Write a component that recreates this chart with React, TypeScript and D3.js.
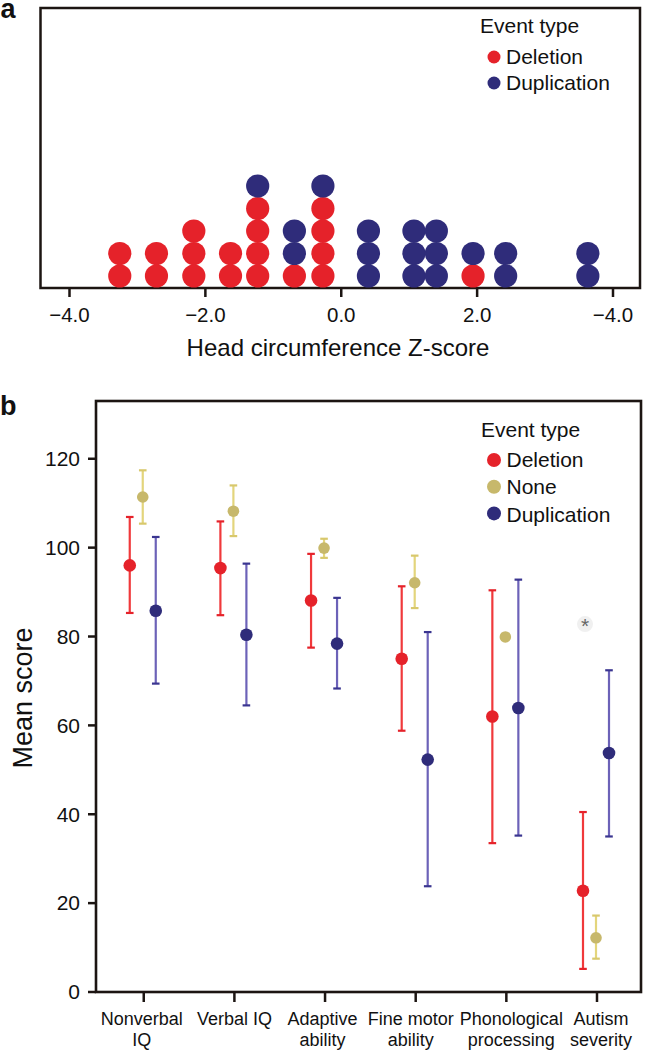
import React from "react";
import * as d3 from "d3";

// ---------- Panel a data ----------
const zScores = [-3.26, -2.72, -2.17, -1.63, -1.23, -0.69, -0.27, 0.4, 1.07, 1.4, 1.94, 2.42, 3.63];
const deletionCounts = [2, 2, 3, 2, 4, 1, 4, 0, 0, 0, 1, 0, 0];
const duplicationCounts = [0, 0, 0, 0, 1, 2, 1, 3, 3, 3, 1, 2, 2];
const zTickValues = [-4, -2, 0, 2, 4];
const zTickLabels = ["\u22124.0", "\u22122.0", "0.0", "2.0", "\u22124.0"];

// ---------- Panel b data ----------
const categories = ["Nonverbal IQ", "Verbal IQ", "Adaptive ability", "Fine motor ability", "Phonological processing", "Autism severity"];
const categoryLines = [["Nonverbal", "IQ"], ["Verbal IQ"], ["Adaptive", "ability"], ["Fine motor", "ability"], ["Phonological", "processing"], ["Autism", "severity"]];
const seriesNames = ["Deletion", "None", "Duplication"];
const deletionMean = [96.0, 95.4, 88.1, 75.0, 62.0, 22.8];
const deletionLow = [85.3, 84.8, 77.5, 58.8, 33.5, 5.2];
const deletionHigh = [106.9, 105.9, 98.6, 91.3, 90.4, 40.5];
const noneMean = [111.4, 108.2, 99.9, 92.1, 79.9, 12.2];
const noneLow = [105.4, 102.6, 97.7, 86.4, 79.9, 7.5];
const noneHigh = [117.4, 114.0, 102.0, 98.2, 79.9, 17.2];
const dupMean = [85.8, 80.4, 78.4, 52.3, 63.9, 53.8];
const dupLow = [69.4, 64.5, 68.3, 23.8, 35.2, 35.0];
const dupHigh = [102.4, 96.4, 88.7, 81.0, 92.8, 72.4];
const scoreTicks = [0, 20, 40, 60, 80, 100, 120];
const outlierCategory = "Autism severity";
const outlierValue = 82.8;

// ---------- styles ----------
const FONT = "'Liberation Sans', Arial, Helvetica, sans-serif";
const RED = "#e5222a";
const BLUE = "#2f2c7a";
const RED_BAR = "#f0393b";
const BLUE_BAR = "#6c62b8";
const YEL = "#c7b86b";
const YEL_BAR = "#e3d57c";
const FRAME = "#1c1512";

const labelNudge = [-2, 0, -2.5, -5, 5, 4];

export default function App() {
  // Panel a geometry
  const aLeft = 40.5, aRight = 640, aTop = 8, aBottom = 288;
  const xz = d3.scaleLinear().domain([-4, 4]).range([69.5, 613]);
  const yStack = d3.scaleLinear().domain([0, 1]).range([276, 253.5]);

  const dots: { x: number; level: number; color: string }[] = [];
  zScores.forEach((z, i) => {
    let level = 0;
    for (let k = 0; k < deletionCounts[i]; k++) dots.push({ x: z, level: level++, color: RED });
    for (let k = 0; k < duplicationCounts[i]; k++) dots.push({ x: z, level: level++, color: BLUE });
  });

  // Panel b geometry
  const bLeft = 96, bRight = 641, bTop = 401, bBottom = 992;
  const xCat = d3.scalePoint<string>().domain(categories).range([143.75, 597]);
  const xSeries = d3.scalePoint<string>().domain(seriesNames).range([-14, 12]);
  const yScore = d3.scaleLinear().domain([0, 133]).range([bBottom, bTop]);

  const series = [
    { name: "Deletion", mean: deletionMean, low: deletionLow, high: deletionHigh, dot: RED, bar: RED_BAR, cap: RED, r: 6.3 },
    { name: "None", mean: noneMean, low: noneLow, high: noneHigh, dot: YEL, bar: YEL_BAR, cap: "#d8c86c", r: 5.8 },
    { name: "Duplication", mean: dupMean, low: dupLow, high: dupHigh, dot: BLUE, bar: BLUE_BAR, cap: "#3a3590", r: 6.3 },
  ];

  const legendB = [
    { name: "Deletion", color: RED },
    { name: "None", color: YEL },
    { name: "Duplication", color: BLUE },
  ];
  const legendA = [
    { name: "Deletion", color: RED },
    { name: "Duplication", color: BLUE },
  ];

  const ox = xCat(outlierCategory)! + xSeries("Deletion")! + 2;
  const oy = yScore(outlierValue);

  return (
    <svg width={650} height={1050} style={{ position: "absolute", left: 0, top: 0, background: "#fff" }} fontFamily={FONT}>
      <rect x={0} y={0} width={650} height={1050} fill="#fff" />
      {/* ---------------- Panel a ---------------- */}
      <text x={0.5} y={17.5} fontSize={27} fontWeight="bold" fill="#111">a</text>
      <rect x={aLeft} y={aTop} width={aRight - aLeft} height={aBottom - aTop} fill="none" stroke={FRAME} strokeWidth={2.5} />
      {dots.map((d, i) => (
        <circle key={i} cx={xz(d.x)} cy={yStack(d.level)} r={11.6} fill={d.color} />
      ))}
      {zTickValues.map((t, i) => (
        <g key={t}>
          <line x1={xz(t)} x2={xz(t)} y1={aBottom} y2={aBottom + 9} stroke={FRAME} strokeWidth={2.5} />
          <text x={xz(t)} y={322} fontSize={20.5} textAnchor="middle" fill="#111">{zTickLabels[i]}</text>
        </g>
      ))}
      <text x={338} y={356} fontSize={24} textAnchor="middle" fill="#111">Head circumference Z-score</text>
      <text x={480} y={33} fontSize={21} fill="#111">Event type</text>
      {legendA.map((l, i) => (
        <g key={l.name}>
          <circle cx={494} cy={57 + i * 26} r={6.5} fill={l.color} />
          <text x={506} y={64 + i * 26} fontSize={21} fill="#111">{l.name}</text>
        </g>
      ))}

      {/* ---------------- Panel b ---------------- */}
      <text x={0} y={415} fontSize={27} fontWeight="bold" fill="#111">b</text>
      <rect x={bLeft} y={bTop} width={bRight - bLeft} height={bBottom - bTop} fill="none" stroke={FRAME} strokeWidth={2.6} />
      {scoreTicks.map((t) => (
        <g key={t}>
          <line x1={bLeft - 8} x2={bLeft} y1={yScore(t)} y2={yScore(t)} stroke={FRAME} strokeWidth={2.5} />
          <text x={80} y={yScore(t)} dy="0.35em" fontSize={21} textAnchor="end" fill="#111">{t}</text>
        </g>
      ))}
      {categories.map((c, i) => (
        <g key={c}>
          <line x1={xCat(c)!} x2={xCat(c)!} y1={bBottom} y2={bBottom + 10} stroke={FRAME} strokeWidth={2.5} />
          {categoryLines[i].map((ln, j) => (
            <text key={j} x={xCat(c)! + labelNudge[i]} y={1025 + j * 21} fontSize={18} textAnchor="middle" fill="#111">{ln}</text>
          ))}
        </g>
      ))}
      <text transform={`translate(31.5, 698) rotate(-90)`} fontSize={27} textAnchor="middle" fill="#111">Mean score</text>

      {series.map((s) => (
        <g key={s.name}>
          {categories.map((c, i) => {
            const x = xCat(c)! + xSeries(s.name)!;
            const hasBar = s.high[i] > s.low[i];
            return (
              <g key={c}>
                {hasBar && (
                  <>
                    <line x1={x} x2={x} y1={yScore(s.high[i])} y2={yScore(s.low[i])} stroke={s.bar} strokeWidth={2.2} />
                    <line x1={x - 3.8} x2={x + 3.8} y1={yScore(s.high[i])} y2={yScore(s.high[i])} stroke={s.cap} strokeWidth={2.2} />
                    <line x1={x - 3.8} x2={x + 3.8} y1={yScore(s.low[i])} y2={yScore(s.low[i])} stroke={s.cap} strokeWidth={2.2} />
                  </>
                )}
                <circle cx={x} cy={yScore(s.mean[i])} r={s.r} fill={s.dot} />
              </g>
            );
          })}
        </g>
      ))}
      {/* outlier asterisk */}
      <g>
        <circle cx={ox} cy={oy} r={8} fill="#f0f0f0" />
        <text x={ox} y={oy + 9} fontSize={21} textAnchor="middle" fill="#666">*</text>
      </g>

      <text x={481} y={437} fontSize={21} fill="#111">Event type</text>
      {legendB.map((l, i) => (
        <g key={l.name}>
          <circle cx={494} cy={460 + i * 26.7} r={7} fill={l.color} />
          <text x={506.5} y={467 + i * 27.4} fontSize={21} fill="#111">{l.name}</text>
        </g>
      ))}
    </svg>
  );
}
